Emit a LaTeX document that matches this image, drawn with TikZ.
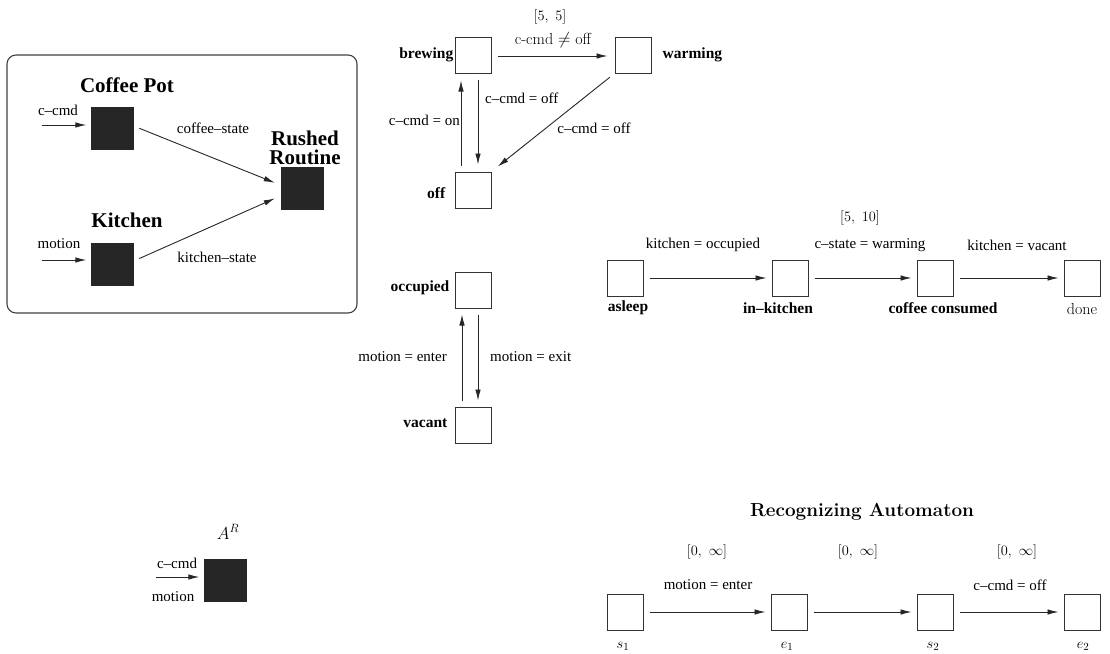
\documentclass[tikz,border=0pt]{standalone}
\usepackage{fontspec}
\newfontfamily\tm{Liberation Serif}
\usetikzlibrary{arrows.meta}
\tikzset{
  lbl/.style={font=\tm\fontsize{15}{17}\selectfont, inner sep=1pt},
  st/.style={font=\tm\bfseries\fontsize{15.5}{17}\selectfont, inner sep=1pt},
  ttl/.style={font=\tm\bfseries\fontsize{21}{19}\selectfont, inner sep=1pt, align=center},
  cmtxt/.style={font=\fontsize{15}{17}\selectfont, inner sep=1pt},
  bsq/.style={fill=black!85, minimum size=43pt, inner sep=0pt, draw=none},
  wsq/.style={draw=black!80, line width=1pt, minimum size=36pt, inner sep=0pt, fill=white},
  arr/.style={draw=black!85, line width=0.9pt, -{Latex[length=11pt,width=5.5pt]}, shorten <=6pt, shorten >=6pt},
}
\begin{document}
\begin{tikzpicture}[x=1pt,y=-1pt]
\useasboundingbox (0,0) rectangle (1110,653);
% ---------- block diagram
\draw[black!75, line width=1.1pt, rounded corners=9pt] (7,55) rectangle (357,313);
\node[bsq] (cp) at (112,128) {};
\node[bsq] (kit) at (112,264) {};
\node[bsq] (rr) at (302,188) {};
\node[ttl] (cpt) at (127,85) {Coffee Pot};
\node[ttl] (kitt) at (127,220) {Kitchen};
\node[ttl] (rrt1) at (305,138) {Rushed};
\node[ttl] (rrt2) at (305,157) {Routine};
\coordinate (cin) at (42,125);
\coordinate (kin) at (42,260);
\node[lbl] (ccmdl) at (58,110) {c–cmd};
\node[lbl] (motl) at (59,244) {motion};
\draw[arr, shorten <=0pt, shorten >=4pt] (cin) -- (cin -| cp.west);
\draw[arr, shorten <=0pt, shorten >=4pt] (kin) -- (kin -| kit.west);
\draw[arr, shorten >=6pt] ([yshift=2pt]cp.east) -- ([yshift=3pt]rr.west);
\draw[arr, shorten >=6pt] ([yshift=3pt]kit.east) -- ([yshift=-8pt]rr.west);
\node[lbl] (csl) at (213,128) {coffee–state};
\node[lbl] (ksl) at (217,257) {kitchen–state};
% ---------- coffee pot automaton
\node[wsq] (brew) at (473,55) {};
\node[wsq] (warm) at (633,55) {};
\node[wsq] (off) at (473,190) {};
\node[st, anchor=east] (brewl) at (brew.west) {brewing};
\node[st, anchor=west] (warml) at ([xshift=10pt]warm.east) {warming};
\node[st, anchor=east] (offl) at ([xshift=-8pt,yshift=-3pt]off.west) {off};
\node[cmtxt] (t55) at (550,17) {$[5,\ 5]$};
\draw[arr, shorten >=7pt] ([yshift=-1pt]brew.east) -- ([yshift=-1pt]warm.west);
\node[cmtxt, font=\fontsize{16}{18}\selectfont] (neq) at (553,40) {c-cmd $\neq$ off};
\draw[arr, shorten >=7pt] ([xshift=5pt]brew.south) -- ([xshift=5pt]off.north);
\draw[arr, shorten >=7pt] ([xshift=-12pt]off.north) -- ([xshift=-12pt]brew.south);
\node[lbl, anchor=west] (offd) at (484,98) {c–cmd = off};
\node[lbl, anchor=east] (onl) at (461,120) {c–cmd = on};
\draw[arr, shorten >=8pt] (warm.south west) -- (off.north east);
\node[lbl] (offdiag) at (594,128) {c–cmd = off};
% ---------- kitchen automaton
\node[wsq] (occ) at (473,290) {};
\node[wsq] (vac) at (473,425) {};
\node[st, anchor=east] (occl) at ([xshift=-4pt,yshift=2pt]occ.west) {occupied};
\node[st, anchor=east] (vacl) at ([xshift=-6pt,yshift=2pt]vac.west) {vacant};
\draw[arr] ([xshift=-11pt]vac.north) -- ([xshift=-11pt]occ.south);
\draw[arr] ([xshift=5pt]occ.south) -- ([xshift=5pt]vac.north);
\node[lbl, anchor=east] (menter) at (448,357) {motion = enter};
\node[lbl, anchor=west] (mexit) at (489,357) {motion = exit};
% ---------- rushed routine automaton
\node[wsq] (asl) at (625,278) {};
\node[wsq] (ink) at (790,278) {};
\node[wsq] (cc) at (935,278) {};
\node[wsq] (done) at (1082,278) {};
\node[st] (asll) at (628,308) {asleep};
\node[st] (inkl) at (778,308) {in–kitchen};
\node[st] (ccl) at (943,308) {coffee consumed};
\node[cmtxt, font=\fontsize{16}{18}\selectfont] (donel) at (1082,309) {done};
\draw[arr, shorten >=5pt] (asl) -- (ink);
\draw[arr, shorten >=5pt] (ink) -- (cc);
\draw[arr, shorten >=5pt] (cc) -- (done);
\node[lbl] (ko) at (703,245) {kitchen = occupied};
\node[lbl] (cw) at (870,245) {c–state = warming};
\node[lbl] (kv) at (1017,245) {kitchen = vacant};
\node[cmtxt] (t510) at (860,218) {$[5,\ 10]$};
% ---------- A^R
\node[bsq] (ar) at (225,580) {};
\node[cmtxt, font=\fontsize{17}{19}\selectfont] (arl) at (228,532) {$A^R$};
\coordinate (arin) at (156,577);
\draw[arr, shorten <=0pt, shorten >=4pt] (arin) -- (arin -| ar.west);
\node[lbl] (arc) at (177,563) {c–cmd};
\node[lbl] (arm) at (173,597) {motion};
% ---------- recognizing automaton
\node[cmtxt, font=\bfseries\fontsize{18.9}{20}\selectfont] (rtitle) at (862,512) {Recognizing Automaton};
\node[wsq] (s1) at (625,612) {};
\node[wsq] (e1) at (789,612) {};
\node[wsq] (s2) at (935,612) {};
\node[wsq] (e2) at (1082,612) {};
\node[cmtxt] (s1l) at (623,646) {$s_1$};
\node[cmtxt] (e1l) at (787,646) {$e_1$};
\node[cmtxt] (s2l) at (933,646) {$s_2$};
\node[cmtxt] (e2l) at (1083,646) {$e_2$};
\draw[arr, shorten >=5pt] (s1) -- (e1);
\draw[arr, shorten >=5pt] (e1) -- (s2);
\draw[arr, shorten >=5pt] (s2) -- (e2);
\node[lbl] (me) at (708,585) {motion = enter};
\node[lbl] (co) at (1010,585) {c–cmd = off};
\node[cmtxt] (i1) at (707,552) {$[0,\ \infty]$};
\node[cmtxt] (i2) at (858,552) {$[0,\ \infty]$};
\node[cmtxt] (i3) at (1017,552) {$[0,\ \infty]$};
\end{tikzpicture}
\end{document}
